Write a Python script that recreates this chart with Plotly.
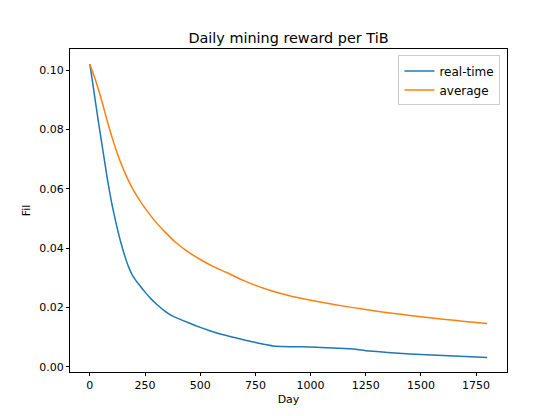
import plotly.graph_objects as go

# Real-time reward per TiB (Fil)
realtime_days = [0, 10, 20, 40, 60, 80, 100, 120, 140, 160, 175, 190, 205, 220, 250, 275,
                 300, 340, 373, 420, 480, 540, 600, 700, 760, 830, 1000, 1100, 1180, 1250,
                 1350, 1450, 1550, 1650, 1800]
realtime_fil = [0.102, 0.097, 0.092, 0.082, 0.0725, 0.063, 0.0548, 0.048, 0.042, 0.037,
                0.0338, 0.0313, 0.0295, 0.0280, 0.0252, 0.0231, 0.0213, 0.0188, 0.0172,
                0.0157, 0.0139, 0.0123, 0.0109, 0.0091, 0.0081, 0.0071, 0.0067, 0.0064,
                0.0061, 0.0055, 0.0049, 0.0044, 0.0040, 0.0037, 0.0032]

# Average reward per TiB (Fil)
average_days = [0, 20, 40, 60, 80, 100, 120, 140, 160, 180, 200, 230, 265, 300, 340, 388,
                440, 500, 560, 620, 700, 800, 900, 1000, 1100, 1200, 1300, 1400, 1500,
                1600, 1700, 1800]
average_fil = [0.102, 0.0978, 0.0932, 0.0880, 0.0825, 0.0775, 0.0728, 0.0688, 0.0652,
               0.0620, 0.0592, 0.0556, 0.0520, 0.0487, 0.0455, 0.0420, 0.0390, 0.0362,
               0.0338, 0.0318, 0.0290, 0.0262, 0.0241, 0.0225, 0.0211, 0.0199, 0.0188,
               0.0178, 0.0169, 0.0161, 0.0153, 0.0146]

y_ticks = [0.00, 0.02, 0.04, 0.06, 0.08, 0.10]
x_ticks = [0, 250, 500, 750, 1000, 1250, 1500, 1750]

fig = go.Figure()
fig.add_trace(go.Scatter(x=realtime_days, y=realtime_fil, mode='lines',
                         line=dict(color='#1f77b4', width=1.5, shape='spline', smoothing=0.4),
                         name='real-time'))
fig.add_trace(go.Scatter(x=average_days, y=average_fil, mode='lines',
                         line=dict(color='#ff7f0e', width=1.5, shape='spline', smoothing=0.6),
                         name='average'))

axis_style = dict(showline=True, mirror=True, linecolor='black', linewidth=1,
                  showgrid=False, zeroline=False, ticks='outside', ticklen=3,
                  tickcolor='black', tickfont=dict(size=11, color='black'))

fig.update_xaxes(range=[-90, 1890], tickvals=x_ticks,
                 title=dict(text='Day', font=dict(size=11, color='black'), standoff=4),
                 **axis_style)
fig.update_yaxes(range=[-0.0017, 0.1071], tickvals=y_ticks, tickformat='.2f',
                 title=dict(text='Fil', font=dict(size=11, color='black'), standoff=6),
                 **axis_style)

# page body adds an 8px margin, so the figure is a bit smaller and shifted margins
fig.update_layout(
    width=546, height=408,
    title=dict(text='Daily mining reward per TiB', x=0.5, xref='paper', xanchor='center',
               y=1, yref='paper', yanchor='bottom', pad=dict(b=6),
               font=dict(size=14.4, color='black')),
    font=dict(family='DejaVu Sans, sans-serif'),
    plot_bgcolor='white', paper_bgcolor='white',
    margin=dict(l=62, r=47, t=41, b=39),
    legend=dict(x=0.985, y=0.98, xanchor='right', yanchor='top',
                bgcolor='white', bordercolor='#cccccc', borderwidth=1,
                tracegroupgap=0, font=dict(size=12, color='black')),
)

fig.write_html("out.html")
